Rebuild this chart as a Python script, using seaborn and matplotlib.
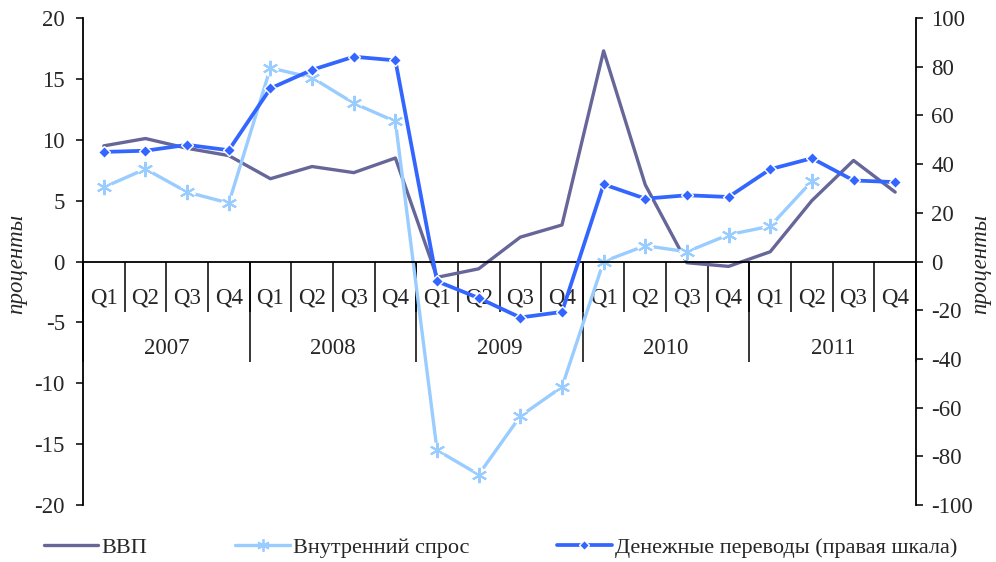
import numpy as np
import pandas as pd
import seaborn as sns
import matplotlib.pyplot as plt
from matplotlib.lines import Line2D

# quarters 2007Q1 .. 2011Q4
quarters = ['Q1', 'Q2', 'Q3', 'Q4'] * 5
years = ['2007', '2008', '2009', '2010', '2011']

gdp = [9.5, 10.1, 9.3, 8.7, 6.8, 7.8, 7.3, 8.5, -1.3, -0.6,
       2.0, 3.0, 17.3, 6.3, -0.1, -0.4, 0.8, 5.0, 8.3, 5.7]
demand = [6.1, 7.6, 5.7, 4.8, 15.9, 15.1, 13.0, 11.5, -15.5, -17.5,
          -12.7, -10.3, 0.0, 1.3, 0.8, 2.2, 2.9, 6.6, np.nan, np.nan]
remit = [45.0, 45.5, 47.9, 45.7, 71.1, 78.7, 84.1, 82.6, -8.1, -15.0,
         -23.0, -20.7, 31.7, 25.8, 27.2, 26.5, 37.9, 42.4, 33.3, 32.6]

labels = ['ВВП', 'Внутренний спрос', 'Денежные переводы (правая шкала)']
c_gdp, c_dem, c_rem = '#666699', '#99CCFF', '#3366FF'

sns.set_theme(style='white')
plt.rcParams['font.family'] = ['Liberation Serif', 'DejaVu Serif']
plt.rcParams['axes.unicode_minus'] = False
FS = 16.5

df = pd.DataFrame({'x': np.arange(20), 'gdp': gdp, 'demand': demand, 'remit': remit})
star = (6, 2, 0)

fig = plt.figure(figsize=(9.96, 5.62), dpi=100)
ax = fig.add_axes([83 / 996, 1 - 505 / 562, 833 / 996, 487 / 562])
ax2 = ax.twinx()

sns.lineplot(data=df, x='x', y='gdp', ax=ax, color=c_gdp, linewidth=2.4)
sns.lineplot(data=df, x='x', y='demand', ax=ax, color=c_dem, linewidth=2.4)
d = df.dropna()
ax.plot(d['x'], d['demand'], ls='none', marker=star, ms=11, mec='white', mew=5)
ax.plot(d['x'], d['demand'], ls='none', marker=star, ms=11, mec=c_dem, mew=1.5)
sns.lineplot(data=df, x='x', y='remit', ax=ax2, color=c_rem, linewidth=2.7,
             marker='D', markersize=6.5, markeredgecolor='white', markeredgewidth=1)

ax.set_xlim(-0.5, 19.5)
ax.set_ylim(-20, 20)
ax2.set_ylim(-100, 100)
ax.set_yticks(range(-20, 21, 5))
ax2.set_yticks(range(-100, 101, 20))
ax.set_xlabel('')
ax.set_ylabel('')
ax2.set_ylabel('')

for a in (ax, ax2):
    a.spines['top'].set_visible(False)
ax.spines['right'].set_visible(False)
ax2.spines['left'].set_visible(False)
ax2.spines['bottom'].set_visible(False)
for s in ('left', 'bottom'):
    ax.spines[s].set_color('black')
    ax.spines[s].set_linewidth(1.3)
ax2.spines['right'].set_color('black')
ax2.spines['right'].set_linewidth(1.3)
ax.spines['bottom'].set_position(('data', 0))

ax.tick_params(axis='y', left=True, length=5, width=1.1, color='black',
               labelsize=FS, pad=8, direction='out')
ax2.tick_params(axis='y', right=True, length=5, width=1.1, color='black',
                labelsize=FS, pad=6, direction='out')

# quarter labels and separators
ax.set_xticks(np.arange(20), quarters)
ax.set_xticks(np.arange(-0.5, 20, 1), minor=True)
ax.tick_params(axis='x', which='major', bottom=True, length=0, labelsize=FS, pad=19)
ax.tick_params(axis='x', which='minor', bottom=True, length=36, width=1.1,
               color='black', direction='out')

# year labels and separators
sec = ax.secondary_xaxis(0.4999)
sec.set_xticks(np.arange(1.5, 20, 4), years)
sec.set_xticks(np.arange(-0.5, 20, 4), minor=True)
sec.spines['bottom'].set_visible(False)
sec.spines['top'].set_visible(False)
sec.tick_params(axis='x', which='major', bottom=True, length=0, labelsize=FS, pad=55)
sec.tick_params(axis='x', which='minor', bottom=True, length=72, width=1.1,
                color='black', direction='out')

fig.text(17 / 996, 1 - 264 / 562, 'проценты', rotation=90, ha='center', va='center',
         style='italic', fontsize=FS)
fig.text(981 / 996, 1 - 264 / 562, 'проценты', rotation=90, ha='center', va='center',
         style='italic', fontsize=FS)

handles = [
    Line2D([], [], color=c_gdp, lw=2.4),
    Line2D([], [], color=c_dem, lw=2.4, marker=star, ms=9, mec=c_dem, mew=1.3),
    Line2D([], [], color=c_rem, lw=2.7, marker='D', ms=5.5, mec='white', mew=1),
]
fig.legend(handles, labels, loc='center left', bbox_to_anchor=(44 / 996, 1 - 548 / 562),
           ncol=3, frameon=False, fontsize=16, handlelength=2.45, handletextpad=0.15,
           columnspacing=3.95, borderpad=0, borderaxespad=0)

fig.savefig('out.png', dpi=100)
